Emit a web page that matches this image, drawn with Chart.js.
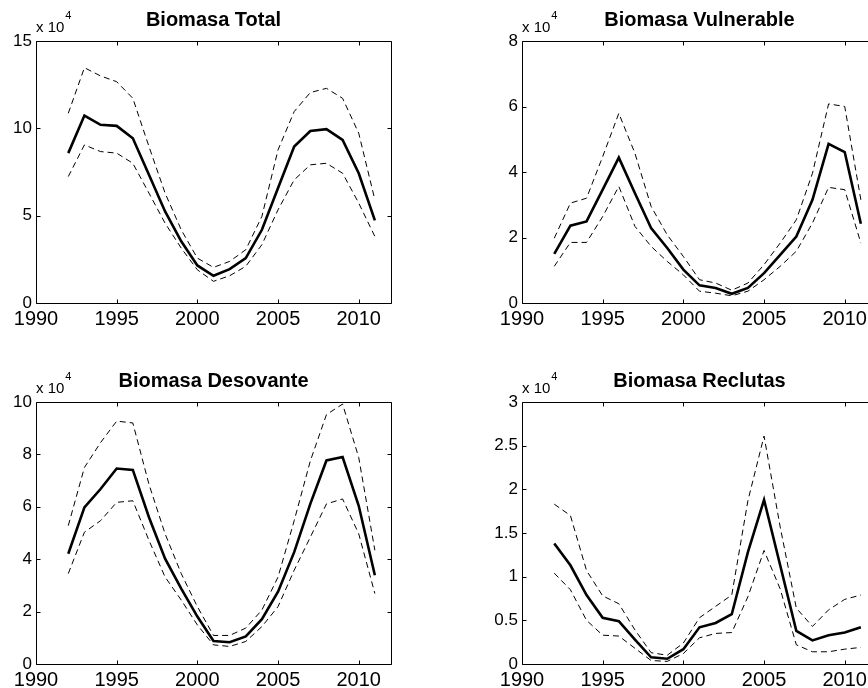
<!DOCTYPE html>
<html>
<head>
<meta charset="utf-8">
<script src="https://cdn.jsdelivr.net/npm/chart.js@4"></script>
<style>
html, body { margin: 0; padding: 0; background: #fff; overflow: hidden; width: 868px; height: 688px; }
.panel { position: absolute; width: 434px; height: 344px; }
</style>
</head>
<body>
<div class="panel" style="left:0;top:0"><canvas id="cTotal" width="434" height="344"></canvas></div>
<div class="panel" style="left:486px;top:0"><canvas id="cVuln" width="434" height="344"></canvas></div>
<div class="panel" style="left:0;top:361px"><canvas id="cDes" width="434" height="344"></canvas></div>
<div class="panel" style="left:486px;top:361px"><canvas id="cRec" width="434" height="344"></canvas></div>
<script>
// years and x axis ticks
const years = [1992, 1993, 1994, 1995, 1996, 1997, 1998, 1999, 2000, 2001,
               2002, 2003, 2004, 2005, 2006, 2007, 2008, 2009, 2010, 2011];
const xTicks = [1990, 1995, 2000, 2005, 2010];

// values in units of 10^4
const totalMid  = [8.58, 10.73, 10.2, 10.14, 9.43, 7.34, 5.24, 3.53, 2.15, 1.56, 1.94, 2.57, 4.19, 6.58, 8.96, 9.85, 9.95, 9.34, 7.43, 4.73];
const totalHigh = [10.86, 13.47, 13.0, 12.67, 11.72, 8.96, 6.29, 4.19, 2.57, 2.04, 2.38, 3.05, 4.96, 8.77, 10.96, 12.05, 12.29, 11.72, 9.72, 5.91];
const totalLow  = [7.24, 9.05, 8.67, 8.58, 8.0, 6.29, 4.57, 3.14, 1.9, 1.24, 1.56, 2.1, 3.34, 5.34, 7.05, 7.91, 8.0, 7.43, 5.72, 3.81];
const totalTicks = [0, 5, 10, 15];

const vulnMid  = [1.5, 2.36, 2.49, 3.46, 4.44, 3.35, 2.29, 1.68, 1.02, 0.54, 0.46, 0.28, 0.46, 0.91, 1.47, 2.03, 3.15, 4.86, 4.61, 2.42];
const vulnHigh = [1.98, 3.05, 3.2, 4.47, 5.79, 4.57, 2.95, 2.08, 1.42, 0.71, 0.61, 0.39, 0.61, 1.17, 1.83, 2.54, 3.96, 6.08, 6.0, 3.15];
const vulnLow  = [1.12, 1.85, 1.85, 2.64, 3.56, 2.34, 1.73, 1.27, 0.86, 0.36, 0.3, 0.22, 0.36, 0.71, 1.12, 1.58, 2.44, 3.53, 3.46, 1.83];
const vulnTicks = [0, 2, 4, 6, 8];

const desMid  = [4.21, 5.98, 6.68, 7.46, 7.41, 5.6, 4.02, 2.88, 1.81, 0.88, 0.83, 1.05, 1.71, 2.76, 4.27, 6.11, 7.77, 7.9, 6.04, 3.39];
const desHigh = [5.28, 7.5, 8.45, 9.27, 9.2, 6.86, 4.97, 3.45, 2.19, 1.09, 1.09, 1.37, 2.06, 3.32, 5.47, 7.75, 9.52, 9.92, 7.88, 4.34];
const desLow  = [3.45, 5.03, 5.47, 6.17, 6.23, 4.72, 3.32, 2.44, 1.49, 0.73, 0.67, 0.86, 1.43, 2.19, 3.58, 4.84, 6.11, 6.3, 4.97, 2.69];
const desTicks = [0, 2, 4, 6, 8, 10];

const recMid  = [1.38, 1.13, 0.79, 0.53, 0.49, 0.28, 0.076, 0.06, 0.17, 0.42, 0.47, 0.57, 1.28, 1.88, 1.13, 0.38, 0.27, 0.33, 0.36, 0.42];
const recHigh = [1.83, 1.7, 1.07, 0.78, 0.69, 0.39, 0.13, 0.1, 0.24, 0.53, 0.66, 0.79, 1.87, 2.61, 1.57, 0.64, 0.43, 0.62, 0.74, 0.79];
const recLow  = [1.04, 0.85, 0.5, 0.33, 0.32, 0.18, 0.04, 0.03, 0.12, 0.3, 0.35, 0.36, 0.77, 1.3, 0.86, 0.22, 0.14, 0.14, 0.17, 0.19];
const recTicks = [0, 0.5, 1, 1.5, 2, 2.5, 3];

const FONT = 'Arial, "Liberation Sans", Helvetica, sans-serif';
const NARROW = '"Liberation Sans Narrow", "Arial Narrow", sans-serif';

// box, inward ticks and the "x 10^4" multiplier, matlab style
const matlabAxes = {
    id: 'matlabAxes',
    afterDraw(chart) {
        const ctx = chart.ctx;
        const a = chart.chartArea;
        const xs = chart.scales.x, ys = chart.scales.y;
        const L = Math.round(a.left) + 0.5, R = Math.round(a.right) + 0.5;
        const T = Math.round(a.top) + 0.5, B = Math.round(a.bottom) + 0.5;
        ctx.save();
        ctx.strokeStyle = '#000';
        ctx.lineWidth = 1;
        ctx.beginPath();
        ctx.rect(L, T, R - L, B - T);
        xs.ticks.forEach(t => {
            const px = Math.round(xs.getPixelForValue(t.value)) + 0.5;
            ctx.moveTo(px, B); ctx.lineTo(px, B - 4);
            ctx.moveTo(px, T); ctx.lineTo(px, T + 4);
        });
        ys.ticks.forEach(t => {
            const py = Math.round(ys.getPixelForValue(t.value)) + 0.5;
            ctx.moveTo(L, py); ctx.lineTo(L + 4, py);
            ctx.moveTo(R, py); ctx.lineTo(R - 4, py);
        });
        ctx.stroke();
        ctx.fillStyle = '#000';
        ctx.textBaseline = 'alphabetic';
        ctx.textAlign = 'left';
        ctx.font = '15px ' + FONT;
        ctx.fillText('x 10', a.left, a.top - 9);
        const w = ctx.measureText('x 10').width;
        ctx.font = '11px ' + FONT;
        ctx.fillText('4', a.left + w + 1, a.top - 22);
        ctx.restore();
    }
};

function makePanel(id, title, mid, high, low, yTicks) {
    const dashed = {
        borderColor: '#000', borderWidth: 1, borderDash: [6, 4],
        pointRadius: 0, tension: 0, fill: false
    };
    new Chart(document.getElementById(id), {
        type: 'line',
        data: {
            datasets: [
                Object.assign({ data: years.map((y, i) => ({ x: y, y: high[i] })) }, dashed),
                Object.assign({ data: years.map((y, i) => ({ x: y, y: low[i] })) }, dashed),
                { data: years.map((y, i) => ({ x: y, y: mid[i] })),
                  borderColor: '#000', borderWidth: 2.6, pointRadius: 0, tension: 0, fill: false }
            ]
        },
        options: {
            responsive: false,
            animation: false,
            layout: { padding: { top: 0, right: 43, bottom: 0, left: 0 } },
            plugins: {
                legend: { display: false },
                tooltip: { enabled: false },
                title: {
                    display: true, text: title, fullSize: false, color: '#000',
                    font: { family: FONT, size: 20, weight: 'bold' },
                    padding: { top: 8, bottom: 9 }
                }
            },
            scales: {
                x: {
                    type: 'linear', min: 1990, max: 2012,
                    afterBuildTicks: s => { s.ticks = xTicks.map(v => ({ value: v })); },
                    afterFit: s => { s.height = 41; },
                    grid: { display: false, drawTicks: false },
                    border: { display: false },
                    ticks: {
                        color: '#000', font: { family: NARROW, size: 20 }, padding: 4,
                        maxRotation: 0, autoSkip: false, callback: v => String(v)
                    }
                },
                y: {
                    min: 0, max: yTicks[yTicks.length - 1],
                    afterBuildTicks: s => { s.ticks = yTicks.map(v => ({ value: v })); },
                    afterFit: s => { s.width = 36; },
                    grid: { display: false, drawTicks: false },
                    border: { display: false },
                    ticks: {
                        color: '#000', font: { family: FONT, size: 17 }, padding: 4,
                        autoSkip: false, callback: v => String(v)
                    }
                }
            }
        },
        plugins: [matlabAxes]
    });
}

makePanel('cTotal', 'Biomasa Total', totalMid, totalHigh, totalLow, totalTicks);
makePanel('cVuln', 'Biomasa Vulnerable', vulnMid, vulnHigh, vulnLow, vulnTicks);
makePanel('cDes', 'Biomasa Desovante', desMid, desHigh, desLow, desTicks);
makePanel('cRec', 'Biomasa Reclutas', recMid, recHigh, recLow, recTicks);
</script>
</body>
</html>
